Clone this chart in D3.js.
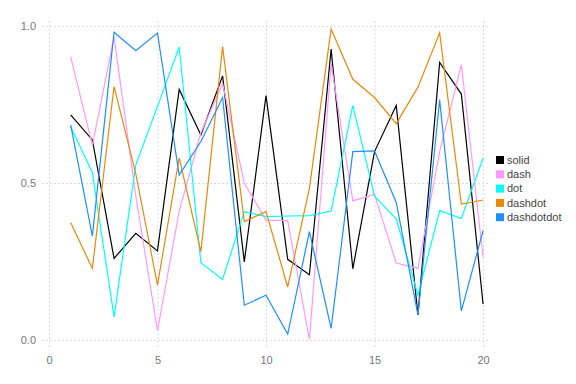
<!DOCTYPE html>
<html>
<head>
<meta charset="utf-8">
<script src="https://cdn.jsdelivr.net/npm/d3@7"></script>
<style>
  body { margin: 0; background: #fff; }
  svg { display: block; font-family: "Liberation Sans", Arial, sans-serif; }
</style>
</head>
<body>
<svg id="chart"></svg>
<script>
const width = 576;
const height = 384;

// data
const xs = d3.range(1, 21);
const seriesNames = ["solid", "dash", "dot", "dashdot", "dashdotdot"];
const seriesColors = ["#000000", "#ff99ff", "#00ffff", "#e8890c", "#1e8fff"];
const solid = [0.717, 0.637, 0.26, 0.34, 0.284, 0.798, 0.653, 0.841, 0.249, 0.778,
  0.257, 0.208, 0.926, 0.227, 0.6, 0.747, 0.08, 0.884, 0.783, 0.115];
const dash = [0.902, 0.62, 0.965, 0.46, 0.03, 0.41, 0.66, 0.817, 0.5, 0.382,
  0.38, 0.002, 0.88, 0.443, 0.464, 0.245, 0.228, 0.6, 0.876, 0.265];
const dot = [0.68, 0.533, 0.074, 0.557, 0.744, 0.933, 0.246, 0.193, 0.409, 0.393,
  0.395, 0.396, 0.411, 0.747, 0.458, 0.386, 0.143, 0.412, 0.387, 0.579];
const dashdot = [0.374, 0.228, 0.807, 0.53, 0.175, 0.58, 0.281, 0.934, 0.377, 0.409,
  0.169, 0.483, 0.99, 0.83, 0.772, 0.689, 0.805, 0.978, 0.433, 0.446];
const dashdotdot = [0.685, 0.331, 0.98, 0.921, 0.977, 0.525, 0.632, 0.772, 0.111, 0.143,
  0.019, 0.345, 0.037, 0.6, 0.602, 0.438, 0.08, 0.765, 0.093, 0.348];
const xTicks = [0, 5, 10, 15, 20];
const yTicks = [0, 0.5, 1.0];

const allSeries = [solid, dash, dot, dashdot, dashdotdot];

const plotLeft = 42, plotRight = 490, plotTop = 19, plotBottom = 347;

const x = d3.scaleLinear().domain([-0.32, 20.32]).range([plotLeft, plotRight]);
const y = d3.scaleLinear().domain([-0.022, 1.022]).range([plotBottom, plotTop]);

const svg = d3.select("#chart").attr("width", width).attr("height", height);

// grid
svg.append("g")
  .attr("class", "grid")
  .attr("transform", `translate(0, ${plotBottom})`)
  .call(d3.axisBottom(x).tickValues(xTicks).tickSize(-(plotBottom - plotTop)).tickFormat(""))
  .call(g => g.select(".domain").remove())
  .call(g => g.selectAll("line").attr("stroke", "#d9d9e6").attr("stroke-dasharray", "2,2"));

svg.append("g")
  .attr("class", "grid")
  .attr("transform", `translate(${plotLeft}, 0)`)
  .call(d3.axisLeft(y).tickValues(yTicks).tickSize(-(plotRight - plotLeft)).tickFormat(""))
  .call(g => g.select(".domain").remove())
  .call(g => g.selectAll("line").attr("stroke", "#d9d9e6").attr("stroke-dasharray", "2,2"));

// axis labels
svg.append("g")
  .attr("transform", `translate(0, ${plotBottom})`)
  .call(d3.axisBottom(x).tickValues(xTicks).tickSize(0).tickPadding(9).tickFormat(d3.format("d")))
  .call(g => g.select(".domain").remove())
  .call(g => g.selectAll("text").attr("fill", "#777").style("font-size", "11px"));

svg.append("g")
  .attr("transform", `translate(${plotLeft}, 0)`)
  .call(d3.axisLeft(y).tickValues(yTicks).tickSize(0).tickPadding(6).tickFormat(d3.format(".1f")))
  .call(g => g.select(".domain").remove())
  .call(g => g.selectAll("text").attr("fill", "#777").style("font-size", "11px"));

// lines
const line = d3.line()
  .x((d, i) => x(xs[i]))
  .y(d => y(d));

svg.selectAll(".series")
  .data(allSeries)
  .enter()
  .append("path")
  .attr("class", "series")
  .attr("fill", "none")
  .attr("stroke", (d, i) => seriesColors[i])
  .attr("stroke-width", 1.2)
  .attr("stroke-linejoin", "miter")
  .attr("d", line);

// legend
const legend = svg.append("g").attr("transform", "translate(496, 160)");
const item = legend.selectAll("g")
  .data(seriesNames)
  .enter()
  .append("g")
  .attr("transform", (d, i) => `translate(0, ${i * 14.3})`);

item.append("rect")
  .attr("x", 0)
  .attr("y", -4)
  .attr("width", 8)
  .attr("height", 8)
  .attr("fill", (d, i) => seriesColors[i]);

item.append("text")
  .attr("x", 11)
  .attr("y", 0)
  .attr("dy", "0.35em")
  .attr("fill", "#444")
  .style("font-size", "11px")
  .text(d => d);
</script>
</body>
</html>
